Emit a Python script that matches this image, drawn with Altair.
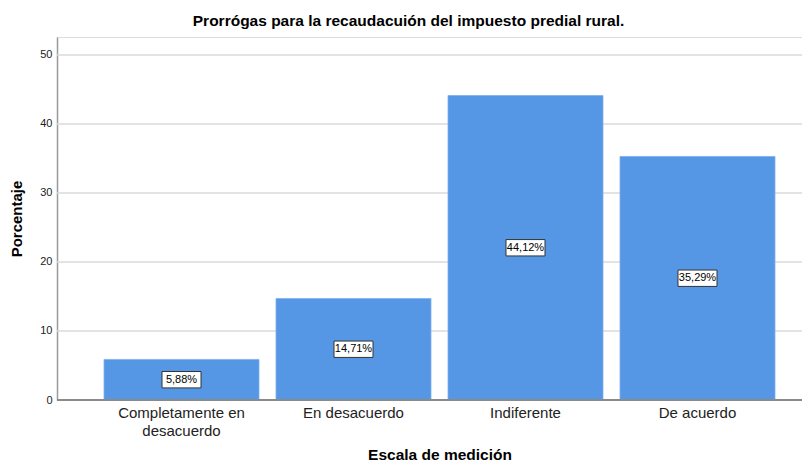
import altair as alt
import pandas as pd

categories = ["Completamente en desacuerdo", "En desacuerdo", "Indiferente", "De acuerdo"]
values = [5.88, 14.71, 44.12, 35.29]
labels = ["5,88%", "14,71%", "44,12%", "35,29%"]
y_ticks = [0, 10, 20, 30, 40, 50]

df = pd.DataFrame({"cat": categories, "val": values, "lab": labels})
grid_df = pd.DataFrame({"t": y_ticks[1:]})

FONT = "Liberation Sans"
W, H = 745, 363

xscale = alt.Scale(domain=categories, range=[47, 718], paddingInner=0.0988, paddingOuter=0)
xenc = alt.X(
    "cat:N",
    scale=xscale,
    sort=categories,
    title="Escala de medición",
    axis=alt.Axis(
        labelAngle=0,
        labelFontSize=15,
        labelFont=FONT,
        labelColor="#222222",
        labelExpr="datum.value == 'Completamente en desacuerdo' ? ['Completamente en', 'desacuerdo'] : datum.value",
        labelLineHeight=18,
        labelPadding=5,
        ticks=False,
        domain=False,
        titleFont=FONT,
        titleFontSize=15.5,
        titleFontWeight="bold",
        titleColor="#000000",
        titlePadding=9,
    ),
)
yscale = alt.Scale(domain=[0, 52.6], nice=False, zero=True)
yenc = alt.Y(
    "val:Q",
    scale=yscale,
    title="Porcentaje",
    axis=alt.Axis(
        values=y_ticks,
        labelFontSize=11,
        labelFont=FONT,
        labelColor="#222222",
        labelPadding=5,
        ticks=False,
        domainColor="#9a9a9a",
        domainWidth=1.5,
        grid=False,
        titleFont=FONT,
        titleFontSize=15,
        titleFontWeight="bold",
        titleColor="#000000",
        titlePadding=15,
    ),
)

grid = alt.Chart(grid_df).mark_rule(color="#dadada", strokeWidth=1.5).encode(
    y=alt.Y("t:Q", scale=yscale)
)

bars = alt.Chart(df).mark_bar(color="#5596e5", stroke="#7fb0ee", strokeWidth=0.8).encode(x=xenc, y=yenc)

baseline = alt.Chart(df).mark_rule(color="#8a8a8a", strokeWidth=1.5).encode(y=alt.datum(0))

boxes = alt.Chart(df).transform_calculate(mid="datum.val / 2").mark_point(
    shape="M-1,-0.42H1V0.42H-1Z", size=1521, filled=True, fill="white", stroke="#333333", strokeWidth=1, opacity=1
).encode(x=alt.X("cat:N", scale=xscale, sort=categories), y=alt.Y("mid:Q", scale=yscale))

texts = alt.Chart(df).transform_calculate(mid="datum.val / 2").mark_text(
    font=FONT, fontSize=11, color="#000000", baseline="middle", align="center"
).encode(x=alt.X("cat:N", scale=xscale, sort=categories), y=alt.Y("mid:Q", scale=yscale), text="lab:N")

chart = alt.layer(grid, bars, baseline, boxes, texts).properties(
    width=W,
    height=H,
    title=alt.TitleParams(
        "Prorrógas para la recaudacuión del impuesto predial rural.",
        font=FONT, fontSize=15.5, fontWeight="bold", color="#000000",
        anchor="start", dx=183, offset=8,
    ),
    autosize=alt.AutoSizeParams(type="none"),
    padding={"left": 49, "top": 29, "right": 0, "bottom": 61},
).configure_view(stroke=None).configure(background="white")

chart.save("out.html", embed_options={"renderer": "svg", "actions": False})
